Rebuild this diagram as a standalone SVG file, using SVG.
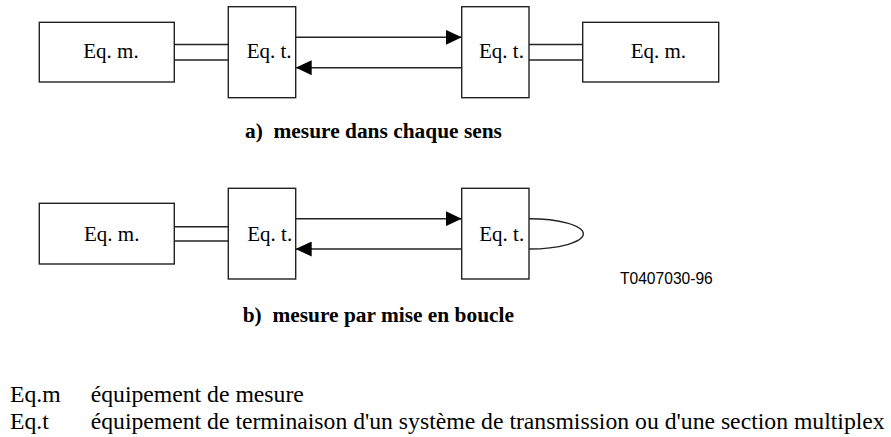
<svg xmlns="http://www.w3.org/2000/svg" width="891" height="437" viewBox="0 0 891 437">
<defs>
<style>
.box{fill:#fff;stroke:#222;stroke-width:1.4}
.ln{fill:none;stroke:#222;stroke-width:1.4}
.lbl{font-family:"Liberation Serif","Times New Roman",serif;font-size:21px;fill:#000}
.cap{font-family:"Liberation Serif","Times New Roman",serif;font-size:21.4px;font-weight:bold;fill:#000}
.leg{font-family:"Liberation Serif","Times New Roman",serif;font-size:23.7px;fill:#000}
.code{font-family:"Liberation Sans",Arial,sans-serif;font-size:15.6px;fill:#000}
</style>
<marker id="ah" markerWidth="16" markerHeight="15" refX="16" refY="7.5" orient="auto" markerUnits="userSpaceOnUse">
<path d="M0,0 L16,7.5 L0,15 Z" fill="#000"/>
</marker>
</defs>
<g id="connectors">
<line class="ln" x1="174.3" y1="44.5" x2="228.3" y2="44.5"/>
<line class="ln" x1="174.3" y1="60" x2="228.3" y2="60"/>
<line class="ln" x1="529" y1="44.5" x2="582.7" y2="44.5"/>
<line class="ln" x1="529" y1="60" x2="582.7" y2="60"/>
<line class="ln" x1="295.7" y1="37.3" x2="461.7" y2="37.3" marker-end="url(#ah)"/>
<line class="ln" x1="461.7" y1="67.7" x2="295.7" y2="67.7" marker-end="url(#ah)"/>
<line class="ln" x1="174.3" y1="226.7" x2="228.3" y2="226.7"/>
<line class="ln" x1="174.3" y1="241" x2="228.3" y2="241"/>
<line class="ln" x1="295.7" y1="218.7" x2="461.7" y2="218.7" marker-end="url(#ah)"/>
<line class="ln" x1="461.7" y1="249" x2="295.7" y2="249" marker-end="url(#ah)"/>
<path class="ln" d="M529,218.7 A54.3,15.15 0 0 1 529,249"/>
</g>
<g id="a-eqm-left">
<rect class="box" x="39.3" y="22.3" width="135" height="59.7"/>
<text class="lbl" x="83.3" y="58">Eq. m.</text>
</g>
<g id="a-eqt-left">
<rect class="box" x="228.3" y="6.7" width="67.4" height="91"/>
<text class="lbl" x="246.7" y="58">Eq. t.</text>
</g>
<g id="a-eqt-right">
<rect class="box" x="461.7" y="6.7" width="67.3" height="91"/>
<text class="lbl" x="479" y="58">Eq. t.</text>
</g>
<g id="a-eqm-right">
<rect class="box" x="582.7" y="22.3" width="136" height="59.7"/>
<text class="lbl" x="630.7" y="58">Eq. m.</text>
</g>
<g id="b-eqm-left">
<rect class="box" x="39.3" y="203.3" width="135" height="60.7"/>
<text class="lbl" x="84" y="241">Eq. m.</text>
</g>
<g id="b-eqt-left">
<rect class="box" x="228.3" y="188.3" width="67.4" height="90.7"/>
<text class="lbl" x="247.3" y="241">Eq. t.</text>
</g>
<g id="b-eqt-right">
<rect class="box" x="461.7" y="188.3" width="67.3" height="90.7"/>
<text class="lbl" x="479.3" y="241">Eq. t.</text>
</g>
<text class="cap" x="245" y="137.5" xml:space="preserve">a)  mesure dans chaque sens</text>
<text class="cap" x="242.7" y="322" xml:space="preserve">b)  mesure par mise en boucle</text>
<text class="code" x="620" y="284.3">T0407030-96</text>
<text class="leg" x="10" y="401.5">Eq.m</text>
<text class="leg" x="90.7" y="401.5">équipement de mesure</text>
<text class="leg" x="10" y="428.5">Eq.t</text>
<text class="leg" x="90.7" y="428.5">équipement de terminaison d'un système de transmission ou d'une section multiplex</text>
</svg>
